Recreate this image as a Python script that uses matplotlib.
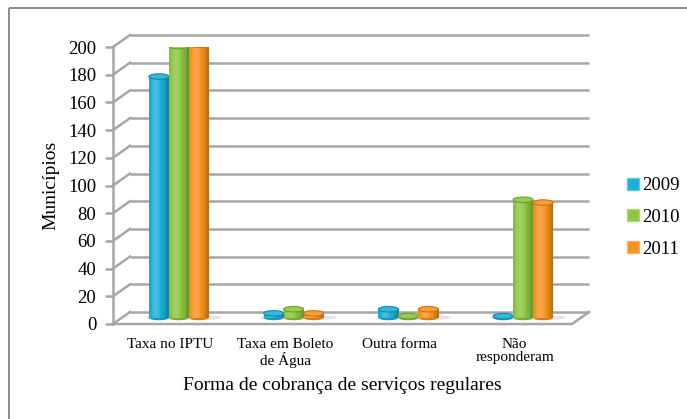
import numpy as np
import matplotlib
matplotlib.use("Agg")
import matplotlib.pyplot as plt
from matplotlib.patches import Ellipse, Patch
from matplotlib.lines import Line2D
from matplotlib.transforms import ScaledTranslation
from matplotlib.colors import to_rgb

categories = ["Taxa no IPTU", "Taxa em Boleto\nde Água", "Outra forma", "Não\nresponderam"]
years = ["2009", "2010", "2011"]
v2009 = [174, 3, 6, 1]
v2010 = [196, 6, 1, 85]
v2011 = [197, 3, 6, 83]
series = [v2009, v2010, v2011]
colors = ["#1AAFD6", "#8CC63F", "#F7931E"]
yticks = list(range(0, 201, 20))

plt.rcParams['font.family'] = ['Liberation Serif', 'DejaVu Serif']

W, H = 687, 419
fig = plt.figure(figsize=(W / 100, H / 100), dpi=100)
L, R, T, B = 113, 572, 47, 324
ax = fig.add_axes([L / W, 1 - B / H, (R - L) / W, (B - T) / H])
ax.set_xlim(-0.5, 3.5)
ax.set_ylim(0, 200)
ax.set_facecolor("none")
for s in ax.spines.values():
    s.set_visible(False)

# outer frame (top and left edges visible)
fig.add_artist(Line2D([8.5 / W, 1.0], [1 - 8.5 / H, 1 - 8.5 / H], transform=fig.transFigure,
                      color="#8c8c8c", lw=1.4, solid_capstyle='butt'))
fig.add_artist(Line2D([8.5 / W, 8.5 / W], [0, 1 - 8.5 / H], transform=fig.transFigure,
                      color="#8c8c8c", lw=1.4, solid_capstyle='butt'))

grid_c = "#a6a6a6"
back = ax.transData + ScaledTranslation(0.17, 0.12, fig.dpi_scale_trans)
mid = ax.transData + ScaledTranslation(0.085, 0.065, fig.dpi_scale_trans)

px_x = (R - L) / 4.0
px_y = (B - T) / 200.0
ddx = 17 / px_x
ddy = 12 / px_y

for v in yticks:
    ax.plot([-0.5, 3.5], [v, v], color=grid_c, lw=1.8, transform=back, clip_on=False, zorder=1,
            solid_capstyle='butt')
    ax.plot([-0.5, -0.5 + ddx], [v, v + ddy], color=grid_c, lw=1.8, clip_on=False, zorder=1)
ax.plot([-0.5, -0.5], [0, 200], color=grid_c, lw=1.8, clip_on=False, zorder=1)
ax.plot([-0.5, 3.5, 3.5 + ddx], [0, 0, ddy], color=grid_c, lw=1.8, clip_on=False, zorder=1,
        solid_joinstyle='miter')

ax.set_yticks(yticks)
ax.set_xticks(range(len(categories)))
ax.set_xticklabels(categories, fontsize=11)
ax.tick_params(axis='y', length=6, width=1.8, color=grid_c, labelsize=13.5, pad=6)
ax.tick_params(axis='x', length=0, pad=10)
for lab in ax.get_xticklabels():
    lab.set_linespacing(1.05)
ax.set_ylabel("Municípios", fontsize=14)
ax.yaxis.set_label_coords(-0.117, 0.5)
ax.set_xlabel("Forma de cobrança de serviços regulares", fontsize=14, labelpad=7)


def mixc(c, other, t):
    c = np.array(to_rgb(c)); o = np.array(to_rgb(other))
    return tuple(c * (1 - t) + o * t)


bw = 20 / px_x
N = 14
ell_h = 5.5 / px_y
for si, (vals, col) in enumerate(zip(series, colors)):
    for ci, v in enumerate(vals):
        xc = ci + (si - 1) * bw
        z = 3 + si * 0.01
        ax.add_patch(Ellipse((xc + bw * 0.25, 0), bw * 1.8, ell_h * 0.9, transform=mid,
                             facecolor="#d9d9d9", edgecolor="none", alpha=0.7, zorder=2))
        edges = np.linspace(xc - bw / 2, xc + bw / 2, N + 1)
        for k in range(N):
            u = (k + 0.5) / N
            f = np.cos((u - 0.35) * np.pi / 1.35)
            if f > 0.85:
                c = mixc(col, "white", (f - 0.85) * 1.2)
            else:
                c = mixc(col, "black", (0.85 - f) * 0.35)
            ax.bar(edges[k], v, width=edges[k + 1] - edges[k] + 0.002, align='edge', bottom=0,
                   color=c, edgecolor="none", transform=mid, zorder=z)
        ax.add_patch(Ellipse((xc, 0), bw, ell_h, transform=mid, facecolor=mixc(col, "black", 0.15),
                             edgecolor="none", zorder=z - 0.001))
        ax.add_patch(Ellipse((xc, v), bw, ell_h, transform=mid, facecolor=mixc(col, "white", 0.1),
                             edgecolor=mixc(col, "black", 0.2), lw=0.8, zorder=z + 0.002))

handles = [Patch(facecolor=c, edgecolor=mixc(c, "white", 0.3)) for c in colors]
fig.legend(handles, years, loc='upper left', bbox_to_anchor=(618 / W, 1 - 168 / H), frameon=False,
           fontsize=13.5, handlelength=0.62, handleheight=0.62, handletextpad=0.15, labelspacing=0.78,
           borderpad=0)

fig.savefig("out.png", dpi=100)
